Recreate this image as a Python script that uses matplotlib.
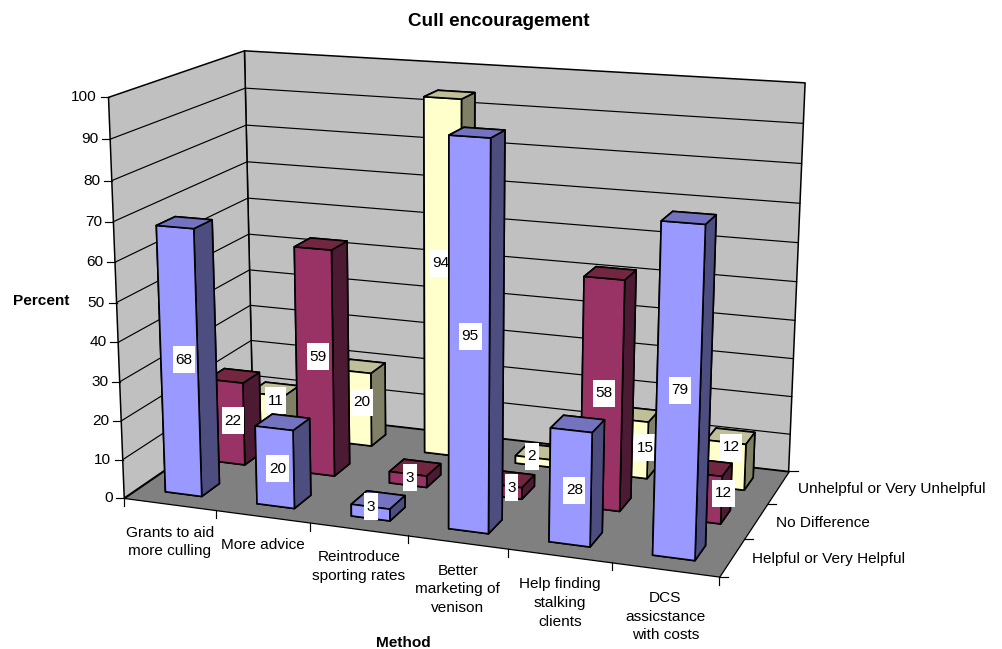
import numpy as np
import matplotlib
matplotlib.use("Agg")
import matplotlib.pyplot as plt
from matplotlib.lines import Line2D
from matplotlib.path import Path
from matplotlib.transforms import Affine2D
from mpl_toolkits.mplot3d.art3d import Poly3DCollection

# ---- data ----
categories = ["Grants to aid\nmore culling", "More advice", "Reintroduce\nsporting rates",
              "Better\nmarketing of\nvenison", "Help finding\nstalking\nclients",
              "DCS\nassicstance\nwith costs"]
series_names = ["Helpful or Very Helpful", "No Difference", "Unhelpful or Very Unhelpful"]
helpful = [68, 20, 3, 95, 28, 79]
no_difference = [22, 59, 3, 3, 58, 12]
unhelpful = [11, 20, 94, 2, 15, 12]
z_ticks = [0, 10, 20, 30, 40, 50, 60, 70, 80, 90, 100]

# layout: pixel nudges of the value labels, per series and category
label_nudge = [
    [(2, -1.5), (0, 3.5), (-2, -4), (-1, -0.5), (2, 4.5), (0, -1.5)],
    [(4, 0.5), (1, -4.5), (0, 0), (7, -1.5), (0, 0), (21, -2.5)],
    [(6, -12), (6, -4), (-4, -15.5), (-4, -3.5), (15, 1), (4.5, -16)],
]

W, H_PX = 1002, 649
plt.rcParams['font.family'] = ['Liberation Sans', 'DejaVu Sans']
FS = 11.1

nx, ny, nz = len(categories), len(series_names), z_ticks[-1]

# ---- camera fitted from the chart box corners (3D box -> picture pixels) ----
box = np.array([[0, 0, 0], [nx, 0, 0], [nx, ny, 0], [0, ny, 0],
                [0, 0, nz], [nx, ny, nz], [0, ny, nz]], float)
pix = np.array([[125, 498], [719, 577], [789, 471], [252, 410],
                [108, 97], [805, 83], [245, 51]], float)
rows = []
for p, q in zip(box, pix):
    X = np.r_[p, 1.0]
    rows.append(np.r_[X, np.zeros(4), -q[0] * X])
    rows.append(np.r_[np.zeros(4), X, -q[1] * X])
P = np.linalg.svd(np.array(rows))[2][-1].reshape(3, 4)
if (P[2] @ np.array([3, 1.5, 50, 1])) < 0:
    P = -P


def to_px(x, y, z):
    u = P @ np.array([x, y, z, 1.0])
    return u[0] / u[2], u[1] / u[2]


fig = plt.figure(figsize=(W / 100, H_PX / 100), dpi=100, facecolor='white')
ax = fig.add_axes([0, 0, 1, 1], projection='3d', computed_zorder=False)
ax.set_axis_off()
ax.apply_aspect = lambda position=None: None


def custom_proj():
    A = ax.transData.get_matrix()
    flip = np.array([[1, 0, 0], [0, -1, H_PX], [0, 0, 1.0]])
    Q = np.linalg.inv(A) @ flip @ P
    return np.array([Q[0], Q[1], [0, 0, 0, -1.0], Q[2]])


ax.get_proj = custom_proj
pixel = Affine2D().scale(1, -1).translate(0, H_PX)

# ---- walls and floor ----
WALL, FLOOR = '#C0C0C0', '#808080'
walls = [[(0, 0, 0), (0, ny, 0), (0, ny, nz), (0, 0, nz)],
         [(0, ny, 0), (nx, ny, 0), (nx, ny, nz), (0, ny, nz)]]
ax.add_collection3d(Poly3DCollection(walls, facecolors=WALL, edgecolors='k', linewidths=1.1, zorder=1))
ax.add_collection3d(Poly3DCollection([[(0, 0, 0), (nx, 0, 0), (nx, ny, 0), (0, ny, 0)]],
                                     facecolors=FLOOR, edgecolors='k', linewidths=0.9, zorder=2))
for z in z_ticks[1:-1]:
    ax.plot([0, 0, nx], [0, ny, ny], [z, z, z], color='k', lw=0.85, zorder=3)


def label_box(x0, y0, w, h, mutation_size):
    cy = y0 + h / 2
    l, r, b, t = x0 - 2.6, x0 + w + 2.6, cy - 13.5, cy + 13.5
    return Path([(l, b), (r, b), (r, t), (l, t), (l, b)], closed=True)


# ---- bars ----
BAR, GAP = 0.4, 0.3
palette = [('#9999FF', '#7373BF', '#4D4D80'),
           ('#993366', '#732640', '#4D1A33'),
           ('#FFFFCC', '#BFBF99', '#808066')]
for r, vals in enumerate([helpful, no_difference, unhelpful]):
    base = 100 * (ny - r)
    face, top, side = palette[r]
    for c, v in enumerate(vals):
        ax.bar3d([c + GAP], [r + GAP], [0], BAR, BAR, v,
                 color=[side, top, face, side, side, side], shade=False,
                 edgecolor='k', linewidth=1.2, zorder=base + c)
        lx, ly = to_px(c + 0.5, r + 0.36, v / 2)
        dx, dy = label_nudge[r][c]
        ax.annotate(str(v), xy=(lx + dx, ly + dy), xycoords=pixel, ha='center', va='center',
                    fontsize=FS, color='k', zorder=base + 50, annotation_clip=False,
                    bbox=dict(facecolor='white', edgecolor='none', boxstyle=label_box))


# ---- ticks and labels, placed at the projected axis positions ----
def seg(a, b, lw=0.85):
    fig.add_artist(Line2D([a[0], b[0]], [a[1], b[1]], color='k', lw=lw, transform=pixel))


for z in z_ticks:
    x0, y0 = to_px(0, 0, z)
    seg((x0 - 8, y0), (x0, y0))
    fig.text(x0 - 11.5, y0, str(z), ha='right', va='center', fontsize=FS, transform=pixel)
for c in range(nx + 1):
    x0, y0 = to_px(c, 0, 0)
    seg((x0, y0), (x0, y0 + 8))
for c, lab in enumerate(categories):
    x0, y0 = to_px(c + 0.5, 0, 0)
    fig.text(x0, y0 + 21.5, lab, ha='center', va='top', fontsize=FS, transform=pixel, linespacing=1.43)
for r in range(ny + 1):
    x0, y0 = to_px(nx, r, 0)
    seg((x0, y0), (x0 + 9, y0))
for r, lab in enumerate(series_names):
    x0, y0 = to_px(nx, r + 0.5, 0)
    fig.text(x0 + 20, y0 + 2, lab, ha='left', va='center', fontsize=FS, transform=pixel)

fig.text(499, 21, "Cull encouragement", ha='center', va='center', fontsize=13.6, fontweight='bold', transform=pixel)
fig.text(41, 301, "Percent", ha='center', va='center', fontsize=FS, fontweight='bold', transform=pixel)
fig.text(403, 643, "Method", ha='center', va='center', fontsize=FS, fontweight='bold', transform=pixel)

fig.savefig("out.png", dpi=100, facecolor='white')
